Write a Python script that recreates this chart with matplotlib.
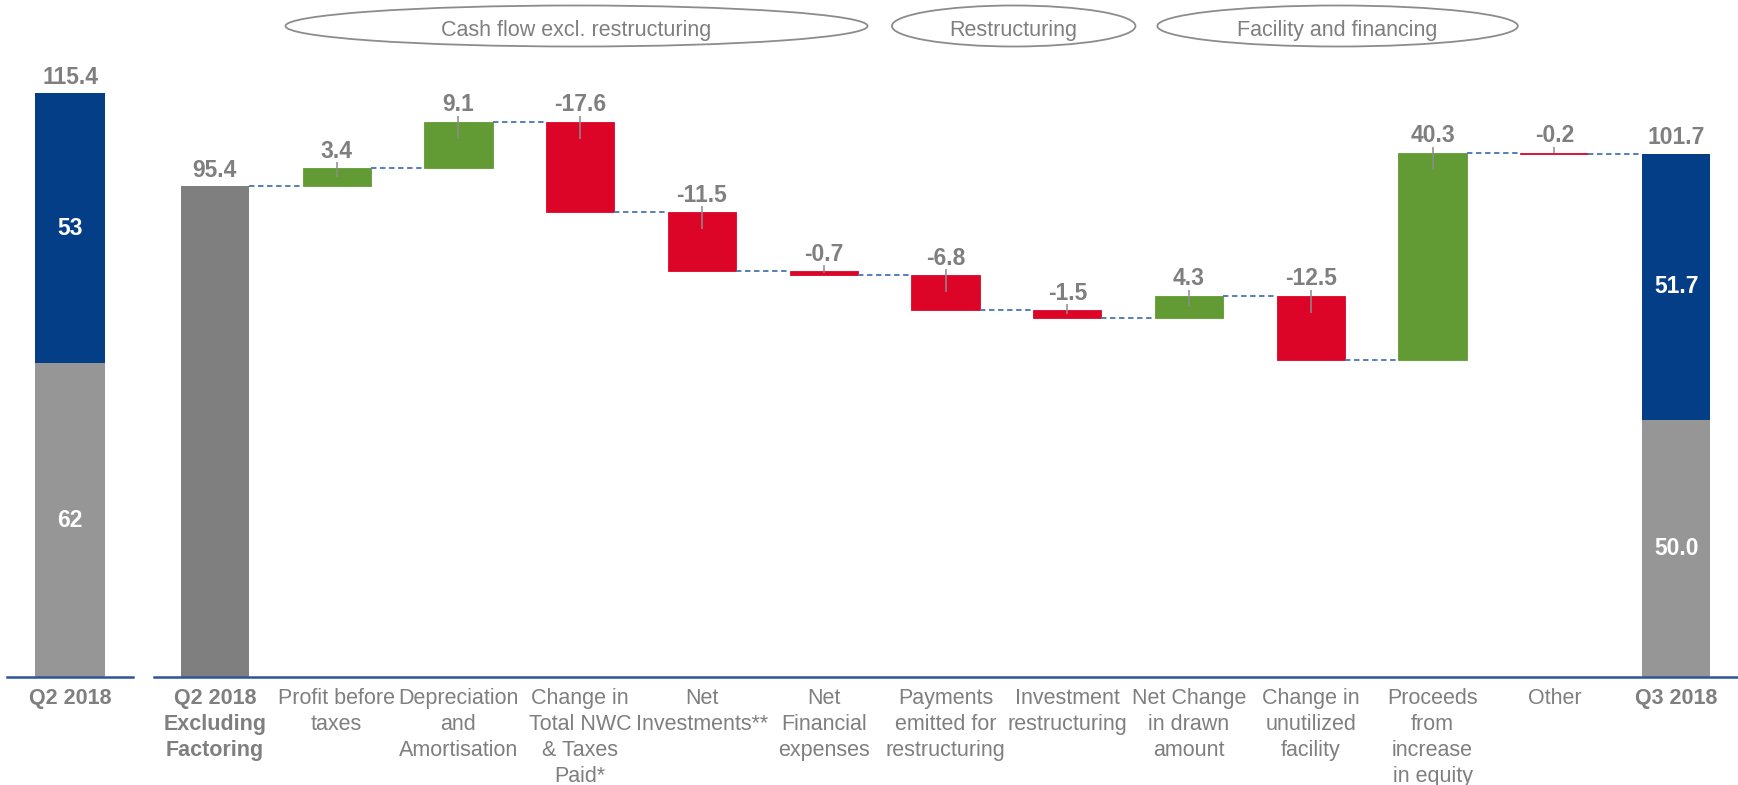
import matplotlib
matplotlib.use("Agg")
import matplotlib.pyplot as plt
import numpy as np
from matplotlib.patches import Ellipse
from matplotlib.transforms import blended_transform_factory

plt.rcParams['font.family'] = ['Liberation Sans', 'DejaVu Sans']

# ---------------- data ----------------
q2_label = "Q2 2018"
q2_parts = [62.0, 53.4]          # grey (lower), blue (upper)
q2_part_labels = ["62", "53"]
q2_total = 115.4

categories = ["Q2 2018\nExcluding\nFactoring", "Profit before\ntaxes",
              "Depreciation\nand\nAmortisation", "Change in\nTotal NWC\n& Taxes\nPaid*",
              "Net\nInvestments**", "Net\nFinancial\nexpenses",
              "Payments\nemitted for\nrestructuring", "Investment\nrestructuring",
              "Net Change\nin drawn\namount", "Change in\nunutilized\nfacility",
              "Proceeds\nfrom\nincrease\nin equity", "Other", "Q3 2018"]
start_value = 95.4
deltas = [3.4, 9.1, -17.6, -11.5, -0.7, -6.8, -1.5, 4.3, -12.5, 40.3, -0.2]
q3_parts = [50.0, 51.7]
q3_total = 101.7

groups = ["Cash flow excl. restructuring", "Restructuring", "Facility and financing"]
group_centers = [2.97, 6.56, 9.22]     # in category units
group_widths = [4.78, 2.0, 2.96]

# ---------------- style ----------------
GREEN = "#629B33"
RED = "#DC0528"
BLUE = "#043E86"
GREY_DARK = "#7F7F7F"
GREY_LIGHT = "#969696"
TXT = "#7F7F7F"
AXIS = "#2F5597"
DASH = "#4A74B4"
BW = 0.56
VAL_FS = 16.5
TICK_FS = 15.5

W, H = 1738, 785
fig = plt.figure(figsize=(W / 100, H / 100), dpi=100)

bottom = (H - 677) / H
ymax = 125
axL = fig.add_axes([7 / W, bottom, 126 / W, 5.06 * ymax / H])
axR = fig.add_axes([154 / W, bottom, 1583 / W, 5.147 * ymax / H])

for ax in (axL, axR):
    ax.set_ylim(0, ymax)
    for s in ("top", "right", "left"):
        ax.spines[s].set_visible(False)
    ax.spines["bottom"].set_color(AXIS)
    ax.spines["bottom"].set_linewidth(1.8)
    ax.set_yticks([])
    ax.tick_params(axis="x", length=0, pad=8)
    ax.patch.set_alpha(0)

# ---------------- left panel ----------------
axL.set_xlim(-0.5, 0.5)
axL.bar([0], [q2_parts[0]], width=BW, color=GREY_LIGHT)
axL.bar([0], [q2_parts[1]], bottom=[q2_parts[0]], width=BW, color=BLUE)
axL.text(0, q2_parts[0] / 2, q2_part_labels[0], ha="center", va="center",
         color="white", fontsize=VAL_FS, fontweight="bold")
axL.text(0, q2_parts[0] + q2_parts[1] / 2, q2_part_labels[1], ha="center", va="center",
         color="white", fontsize=VAL_FS, fontweight="bold")
axL.annotate(f"{q2_total:.1f}", (0, sum(q2_parts)), xytext=(0, 6.8),
             textcoords="offset points", ha="center", va="baseline",
             color=TXT, fontsize=VAL_FS, fontweight="bold")
axL.set_xticks([0])
axL.set_xticklabels([q2_label], fontsize=TICK_FS, fontweight="bold", color=TXT)

# ---------------- waterfall ----------------
n = len(categories)
x = np.arange(n)
axR.set_xlim(-0.5, n - 0.5)

levels = [start_value]
for d in deltas:
    levels.append(levels[-1] + d)

# start bar
axR.bar([0], [start_value], width=BW, color=GREY_DARK)
axR.annotate(f"{start_value:.1f}", (0, start_value), xytext=(0, 6.8),
             textcoords="offset points", ha="center", va="baseline",
             color=TXT, fontsize=VAL_FS, fontweight="bold")

# delta bars
px_unit = 5.147
for i, d in enumerate(deltas, start=1):
    prev = levels[i - 1]
    lo = min(prev, prev + d)
    hi = max(prev, prev + d)
    col = GREEN if d > 0 else RED
    axR.bar([i], [hi - lo], bottom=[lo], width=BW, color=col,
            edgecolor=col, linewidth=0.6)
    axR.annotate(f"{d:.1f}", (i, hi), xytext=(0, 7.5),
                 textcoords="offset points", ha="center", va="baseline",
                 color=TXT, fontsize=VAL_FS, fontweight="bold")
    down = min((hi - lo) / 2, 17 / px_unit)
    axR.plot([i, i], [hi + 6 / px_unit, hi - down], color="#8C8C8C", lw=1.1,
             solid_capstyle="butt", zorder=3)

# end bar (stacked)
axR.bar([n - 1], [q3_parts[0]], width=BW, color=GREY_LIGHT)
axR.bar([n - 1], [q3_parts[1]], bottom=[q3_parts[0]], width=BW, color=BLUE)
axR.text(n - 1, q3_parts[0] / 2, f"{q3_parts[0]:.1f}", ha="center", va="center",
         color="white", fontsize=VAL_FS, fontweight="bold")
axR.text(n - 1, q3_parts[0] + q3_parts[1] / 2, f"{q3_parts[1]:.1f}", ha="center",
         va="center", color="white", fontsize=VAL_FS, fontweight="bold")
axR.annotate(f"{q3_total:.1f}", (n - 1, sum(q3_parts)), xytext=(0, 6.8),
             textcoords="offset points", ha="center", va="baseline",
             color=TXT, fontsize=VAL_FS, fontweight="bold")

# connectors
for i in range(n - 1):
    lvl = levels[i]
    axR.plot([i + BW / 2, i + 1 - BW / 2], [lvl, lvl], color=DASH, lw=1.3,
             linestyle=(0, (3, 2)), zorder=2)

axR.set_xticks(x)
labels = axR.set_xticklabels(categories, fontsize=TICK_FS, color=TXT, linespacing=1.3)
for k in (0, n - 1):
    labels[k].set_fontweight("bold")

# ---------------- group ellipses ----------------
tr = blended_transform_factory(axR.transData, fig.transFigure)
ey = 1 - 26 / H
eh = 41 / H
for g, c, w in zip(groups, group_centers, group_widths):
    e = Ellipse((c, ey), w, eh, transform=tr, fill=False, edgecolor="#8C8C8C",
                lw=1.3, clip_on=False)
    fig.add_artist(e)
    axR.text(c, 1 - 36 / H, g, transform=tr, ha="center", va="baseline",
             fontsize=TICK_FS, color=TXT, clip_on=False)

fig.savefig("out.png", dpi=100)
